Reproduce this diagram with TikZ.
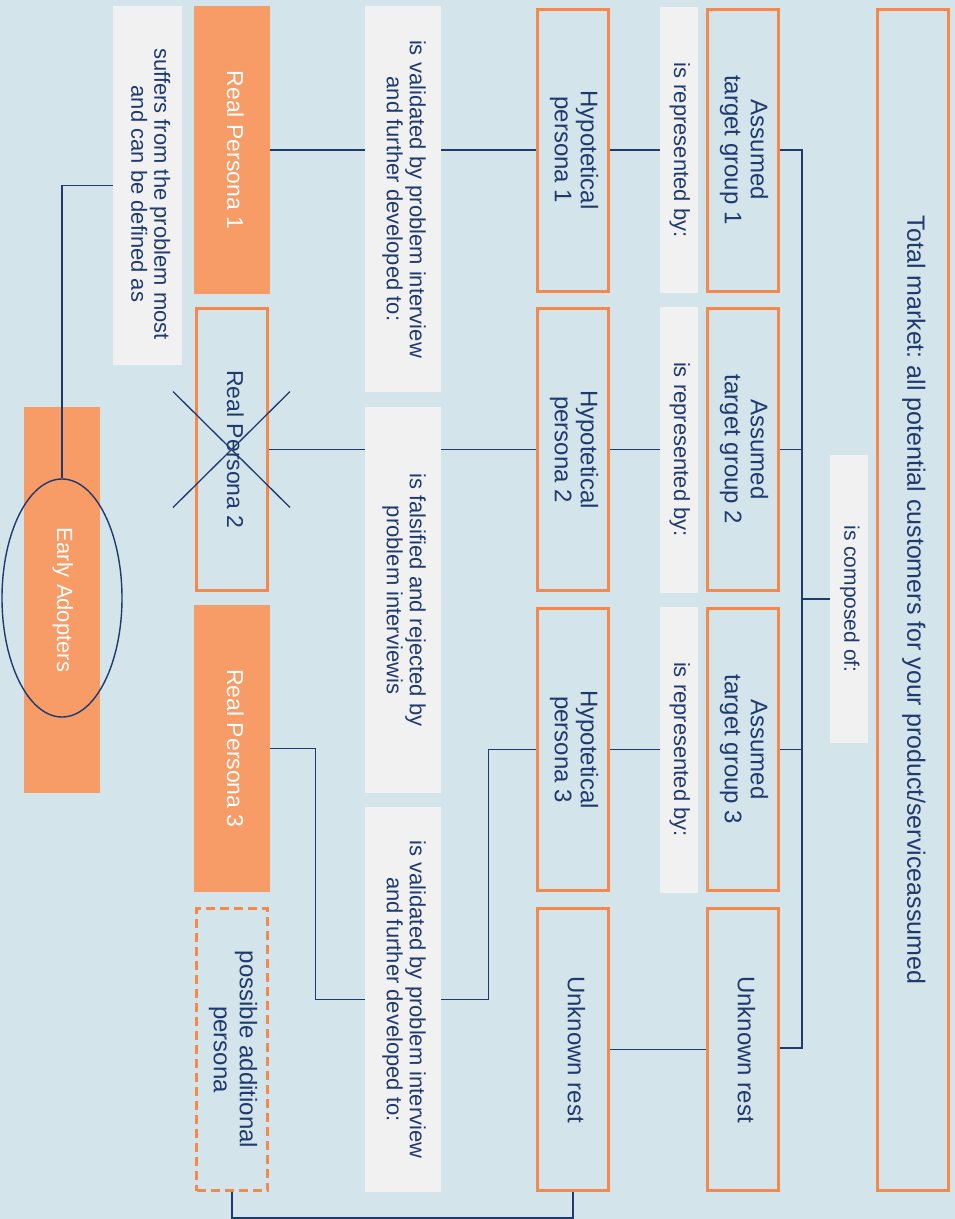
\documentclass[tikz,border=0pt]{standalone}
\usepackage{fontspec}
\setmainfont{Liberation Sans}
\usetikzlibrary{shapes.geometric}
\frenchspacing
\definecolor{bgc}{HTML}{D4E4EB}
\definecolor{orng}{HTML}{F4894B}
\definecolor{orngfill}{HTML}{F79B67}
\definecolor{grayb}{HTML}{F1F1F1}
\definecolor{navy}{HTML}{1E3A6E}
\newcommand\vtxt[3]{\rotatebox{-90}{\fontsize{#1}{#2}\selectfont\begin{tabular}{@{}c@{}}#3\end{tabular}}}
\newcommand\vtxtshift[4]{\rotatebox{-90}{\fontsize{#1}{#2}\selectfont\hspace*{#3}\begin{tabular}{@{}c@{}}#4\end{tabular}}}
\tikzset{
  ob/.style={draw=orng, line width=3pt, rectangle, inner sep=0pt, text=navy, minimum width=71pt},
  dashbox/.style={ob, dash pattern=on 9pt off 5pt},
  fb/.style={fill=orngfill, rectangle, inner sep=0pt, text=white, minimum width=76pt},
  gb/.style={fill=grayb, rectangle, inner sep=0pt, text=navy},
  conn/.style={draw=navy, line width=1.4pt},
}
\begin{document}
\begin{tikzpicture}[x=1pt,y=-1pt]
\useasboundingbox (0,0) rectangle (955,1219);
\fill[bgc] (0,0) rectangle (955,1219);

% total market
\node[ob, minimum height=1181pt] (total) at (913,600) {\vtxt{25}{28}{Total market: all potential customers for your product/serviceassumed}};
\node[gb, minimum width=38pt, minimum height=288pt] (comp) at (849,599) {\vtxt{21}{23}{is composed of:}};

% target groups
\node[ob, minimum height=282pt] (tg1) at (743,150) {\vtxt{24}{26}{Assumed\\target group 1}};
\node[ob, minimum height=282pt] (tg2) at (743,449.5) {\vtxt{24}{26}{Assumed\\target group 2}};
\node[ob, minimum height=282pt] (tg3) at (743,749.5) {\vtxt{24}{26}{Assumed\\target group 3}};
\node[ob, minimum height=282pt] (ur1) at (743,1049.5) {\vtxt{24}{26}{Unknown rest}};

% represented by
\node[gb, minimum width=38pt, minimum height=286pt] (rep1) at (679,150) {\vtxt{22}{24}{is represented by:}};
\node[gb, minimum width=38pt, minimum height=286pt] (rep2) at (679,449.5) {\vtxt{22}{24}{is represented by:}};
\node[gb, minimum width=38pt, minimum height=286pt] (rep3) at (679,749.5) {\vtxt{22}{24}{is represented by:}};

% hypothetical personas
\node[ob, minimum height=282pt] (hyp1) at (573,150) {\vtxt{24}{26}{Hypotetical\\persona 1}};
\node[ob, minimum height=282pt] (hyp2) at (573,449.5) {\vtxt{24}{26}{Hypotetical\\persona 2}};
\node[ob, minimum height=282pt] (hyp3) at (573,749.5) {\vtxt{24}{26}{Hypotetical\\persona 3}};
\node[ob, minimum height=282pt] (hyp4) at (573,1049.5) {\vtxt{24}{26}{Unknown rest}};

% validation boxes
\node[gb, minimum width=76pt, minimum height=386pt] (val1) at (403,199) {\vtxt{22}{23}{is validated by problem interview\\and further developed to:}};
\node[gb, minimum width=76pt, minimum height=386pt] (val2) at (403,600) {\vtxt{22}{23}{is falsified and rejected by\\problem interviewis}};
\node[gb, minimum width=76pt, minimum height=385pt] (val3) at (403,999.5) {\vtxt{22}{23}{is validated by problem interview\\and further developed to:}};

% real personas
\node[fb, minimum height=288pt] (rp1) at (232,150) {\vtxt{23}{25}{Real Persona 1}};
\node[ob, minimum height=282pt] (rp2) at (232,449.5) {\vtxt{23}{25}{Real Persona 2}};
\node[fb, minimum height=287pt] (rp3) at (232,748.5) {\vtxt{23}{25}{Real Persona 3}};
\node[dashbox, minimum height=282pt] (poss) at (232,1049.5) {\vtxt{24}{26}{possible additional\\persona}};

% suffers / early adopters
\node[gb, minimum width=69pt, minimum height=359pt] (suf) at (147.5,185.5) {\vtxtshift{22}{23}{17pt}{suffers from the problem most\\and can be defined as}};
\node[fb, minimum height=386pt] (eab) at (62,600) {\vtxt{22}{24}{Early Adopters}};
\node[ellipse, draw=navy, line width=1.4pt, minimum width=120pt, minimum height=238pt, inner sep=0pt] (ea) at (62,598) {};

% cross over real persona 2
\draw[navy, line width=1.3pt] ([shift={(-59,-58)}]rp2.center) -- ([shift={(58,58)}]rp2.center);
\draw[navy, line width=1.3pt] ([shift={(58,-58)}]rp2.center) -- ([shift={(-59,58)}]rp2.center);

% bus on the right
\coordinate (bustop) at (802,150);
\coordinate (busbot) at (802,1048);
\draw[conn] (tg1.east |- bustop) -- (bustop) -- (busbot) -- (ur1.east |- busbot);
\draw[conn] (tg2.east) -- (tg2.east -| bustop);
\draw[conn] (tg3.east) -- (tg3.east -| bustop);
\draw[conn] (comp.west) -- (comp.west -| bustop);

% hyp to represented
\draw[conn] (hyp1.east) -- (rep1.west);
\draw[conn] (hyp2.east) -- (rep2.west);
\draw[conn] (hyp3.east) -- (rep3.west);
\draw[conn] (hyp4.east) -- (ur1.west);

% validation links
\draw[conn] (hyp1.west) -- (hyp1.west -| val1.east);
\draw[conn] (val1.west |- rp1.east) -- (rp1.east);
\draw[conn] (hyp2.west) -- (hyp2.west -| val2.east);
\draw[conn] (val2.west |- rp2.east) -- (rp2.east);
\draw[conn] (rp3.east) -- ++(45,0) |- (val3.west);
\draw[conn] (val3.east) -- ++(47,0) |- (hyp3.west);

% bottom link
\draw[conn] (hyp4.south) -- ++(0,26) -| (poss.south);

% suffers to early adopters
\draw[conn] (suf.west) -| (ea.north);
\end{tikzpicture}
\end{document}
